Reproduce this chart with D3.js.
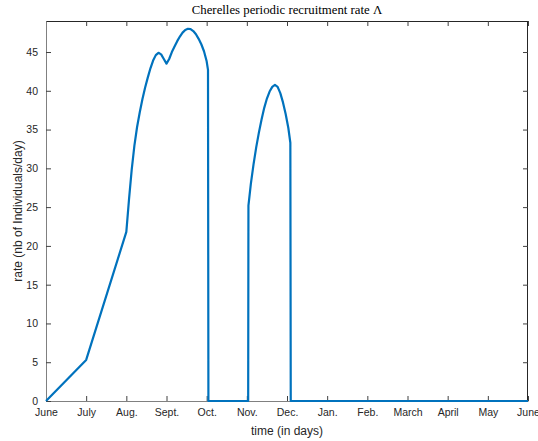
<!DOCTYPE html>
<html><head><meta charset="utf-8">
<script src="https://cdn.jsdelivr.net/npm/d3@7"></script>
<style>body{margin:0;background:#fff}svg{display:block}</style>
</head><body>
<script>
const monthLabels = ["June","July","Aug.","Sept.","Oct.","Nov.","Dec.","Jan.","Feb.","March","April","May","June"];
const monthTicks = [0,30,60,90,120,150,180,210,240,270,300,330,360];
const yTicks = [0,5,10,15,20,25,30,35,40,45];
const days = [0,30,60,62,64,66,68,70,72,74,76,78,80,82,84,86,88,90,92,94,96,98,100,102,104,106,108,110,112,114,116,118,120,121,121.3,151,151.2,153,155,157,159,161,163,165,167,169,171,173,175,177,179,181,182.5,182.8,360];
const rates = [0,5.3,21.8,26,29.8,32.9,35.3,37.2,38.9,40.4,41.7,42.9,43.9,44.6,44.9,44.7,44.1,43.5,44.1,45.0,45.7,46.4,47.0,47.5,47.85,48.0,47.95,47.7,47.3,46.7,46.0,45.1,43.8,42.7,0,0,25.2,28.0,30.5,32.7,34.6,36.3,37.8,39.0,39.9,40.5,40.75,40.5,39.7,38.5,37.0,35.2,33.3,0,0];

const W=538,H=441, L=46, R=528, T=21, B=401;
const svg=d3.select("body").append("svg").attr("width",W).attr("height",H);
const x=d3.scaleLinear().domain([0,360]).range([L,R]);
const y=d3.scaleLinear().domain([0,49]).range([B,T]);
const font="'Liberation Sans', Arial, sans-serif";

// box
svg.append("line").attr("x1",L).attr("x2",R).attr("y1",T+0.5).attr("y2",T+0.5).attr("stroke","#262626");
svg.append("line").attr("x1",R-0.5).attr("x2",R-0.5).attr("y1",T).attr("y2",B).attr("stroke","#262626");

// bottom axis
svg.append("g").attr("transform",`translate(0,${B})`)
  .call(d3.axisBottom(x).tickValues(monthTicks).tickFormat((d,i)=>monthLabels[i]).tickSizeInner(-5).tickSizeOuter(0).tickPadding(8));
// top ticks
svg.append("g").attr("transform",`translate(0,${T})`)
  .call(d3.axisTop(x).tickValues(monthTicks).tickFormat("").tickSizeInner(-5).tickSizeOuter(0))
  .call(g=>g.select(".domain").remove());
// left axis
svg.append("g").attr("transform",`translate(${L},0)`)
  .call(d3.axisLeft(y).tickValues(yTicks).tickSizeInner(-5).tickSizeOuter(0).tickPadding(8));
// right ticks
svg.append("g").attr("transform",`translate(${R},0)`)
  .call(d3.axisRight(y).tickValues(yTicks).tickFormat("").tickSizeInner(-5).tickSizeOuter(0))
  .call(g=>g.select(".domain").remove());

svg.selectAll(".domain").attr("stroke","#808080");
svg.selectAll(".tick line").attr("stroke","#404040");
svg.selectAll(".tick text").attr("font-family",font).attr("font-size",10.5).attr("fill","#262626");

// line
const pts=days.map((d,i)=>[d,rates[i]]);
svg.append("path").datum(pts)
  .attr("fill","none").attr("stroke","#0072BD").attr("stroke-width",2.2).attr("stroke-linejoin","round")
  .attr("d",d3.line().x(d=>x(d[0])).y(d=>y(d[1])));

// title
svg.append("text").attr("x",(L+R)/2).attr("y",14).attr("text-anchor","middle")
  .attr("font-family","'Liberation Serif','DejaVu Serif',serif").attr("font-size",12.8).attr("fill","#000")
  .text("Cherelles periodic recruitment rate Λ");
// labels
svg.append("text").attr("x",(L+R)/2).attr("y",435).attr("text-anchor","middle")
  .attr("font-family",font).attr("font-size",12).attr("fill","#262626").text("time (in days)");
svg.append("text").attr("transform",`translate(22,${(T+B)/2}) rotate(-90)`).attr("text-anchor","middle")
  .attr("font-family",font).attr("font-size",12).attr("fill","#262626").text("rate (nb of Individuals/day)");
</script>
</body></html>
